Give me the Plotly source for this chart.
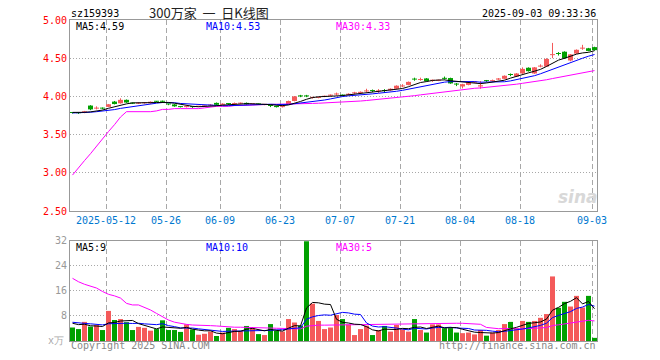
import plotly.graph_objects as go
import pandas as pd

# ---------------- data ----------------
holidays = ["2025-05-01", "2025-05-02", "2025-05-05", "2025-06-02"]
dates = pd.bdate_range("2025-04-29", "2025-09-03", freq="C", holidays=holidays)

opens = [3.790, 3.788, 3.785, 3.880, 3.840, 3.848, 3.863, 3.932, 3.910, 3.955,
         3.915, 3.905, 3.910, 3.910, 3.935, 3.935, 3.900, 3.895, 3.865, 3.860,
         3.865, 3.865, 3.870, 3.880, 3.915, 3.890, 3.905, 3.900, 3.905, 3.915,
         3.895, 3.900, 3.890, 3.890, 3.875, 3.860, 3.900, 3.940, 4.005, 4.005,
         3.980, 3.980, 3.995, 4.010, 4.025, 4.015, 4.020, 4.040, 4.045, 4.065,
         4.075, 4.065, 4.075, 4.080, 4.100, 4.130, 4.150, 4.225, 4.215, 4.235,
         4.205, 4.205, 4.235, 4.240, 4.160, 4.130, 4.150, 4.180, 4.130, 4.205,
         4.200, 4.220, 4.230, 4.285, 4.260, 4.300, 4.375, 4.300, 4.390, 4.390,
         4.540, 4.565, 4.585, 4.470, 4.560, 4.625, 4.630, 4.645]
highs = [3.795, 3.790, 3.810, 3.885, 3.870, 3.855, 3.900, 3.940, 3.975, 3.960,
         3.920, 3.920, 3.925, 3.935, 3.940, 3.945, 3.905, 3.900, 3.870, 3.875,
         3.870, 3.875, 3.880, 3.900, 3.920, 3.910, 3.910, 3.920, 3.920, 3.920,
         3.905, 3.905, 3.900, 3.895, 3.880, 3.890, 3.945, 4.005, 4.020, 4.020,
         3.995, 3.995, 4.010, 4.025, 4.050, 4.025, 4.040, 4.060, 4.065, 4.100,
         4.090, 4.095, 4.095, 4.105, 4.145, 4.160, 4.195, 4.245, 4.245, 4.240,
         4.220, 4.220, 4.260, 4.245, 4.175, 4.165, 4.190, 4.195, 4.200, 4.215,
         4.220, 4.240, 4.275, 4.300, 4.305, 4.380, 4.380, 4.385, 4.420, 4.500,
         4.700, 4.580, 4.590, 4.555, 4.615, 4.675, 4.635, 4.650]
lows = [3.775, 3.770, 3.780, 3.820, 3.830, 3.832, 3.860, 3.895, 3.905, 3.915,
        3.900, 3.900, 3.905, 3.905, 3.925, 3.915, 3.885, 3.865, 3.855, 3.855,
        3.850, 3.860, 3.865, 3.875, 3.885, 3.885, 3.890, 3.895, 3.900, 3.890,
        3.890, 3.890, 3.885, 3.860, 3.855, 3.855, 3.895, 3.935, 3.990, 3.990,
        3.970, 3.975, 3.990, 4.005, 4.010, 4.000, 4.015, 4.030, 4.040, 4.055,
        4.055, 4.045, 4.050, 4.075, 4.095, 4.120, 4.145, 4.205, 4.205, 4.195,
        4.190, 4.200, 4.220, 4.165, 4.135, 4.105, 4.145, 4.175, 4.100, 4.190,
        4.195, 4.215, 4.225, 4.265, 4.255, 4.295, 4.325, 4.295, 4.380, 4.385,
        4.500, 4.535, 4.490, 4.460, 4.555, 4.610, 4.590, 4.600]
closes = [3.783, 3.780, 3.805, 3.830, 3.850, 3.840, 3.897, 3.900, 3.955, 3.920,
          3.905, 3.915, 3.920, 3.930, 3.930, 3.930, 3.895, 3.870, 3.860, 3.865,
          3.860, 3.870, 3.875, 3.890, 3.890, 3.905, 3.900, 3.910, 3.912, 3.895,
          3.900, 3.895, 3.895, 3.875, 3.860, 3.870, 3.940, 4.000, 4.000, 4.000,
          3.985, 3.990, 4.005, 4.020, 4.030, 4.010, 4.035, 4.045, 4.060, 4.070,
          4.070, 4.070, 4.070, 4.100, 4.140, 4.135, 4.190, 4.220, 4.225, 4.200,
          4.210, 4.215, 4.230, 4.170, 4.155, 4.160, 4.185, 4.190, 4.145, 4.200,
          4.210, 4.235, 4.270, 4.280, 4.300, 4.360, 4.330, 4.380, 4.400, 4.490,
          4.550, 4.555, 4.500, 4.550, 4.610, 4.630, 4.595, 4.605]
# closes of the 9 sessions before the window (feed the MA5 / MA10 start)
prior_closes = [3.77, 3.78, 3.77, 3.78, 3.78, 3.79, 3.79, 3.80, 3.79]
# MA30 values shown for the first 29 sessions (window not yet full)
ma30_early = [2.97, 3.07, 3.16, 3.25, 3.35, 3.44, 3.54, 3.63, 3.73, 3.80,
              3.80, 3.80, 3.80, 3.80, 3.81, 3.83, 3.83, 3.84, 3.84, 3.84,
              3.84, 3.84, 3.85, 3.86, 3.87, 3.87, 3.87, 3.88, 3.88]

volumes = [4.3, 3.8, 6.1, 4.6, 5.1, 3.5, 9.6, 6.7, 7.0, 6.0,
           3.5, 4.5, 4.2, 3.3, 3.8, 6.6, 3.5, 3.5, 2.9, 5.3,
           3.7, 2.0, 2.3, 3.0, 1.6, 2.7, 4.2, 3.8, 3.2, 4.8,
           4.1, 2.2, 1.9, 5.4, 3.2, 3.0, 7.0, 5.9, 4.9, 31.8,
           11.9, 6.4, 3.8, 4.3, 8.3, 7.0, 5.3, 1.9, 3.8, 4.9,
           1.9, 3.5, 4.8, 3.0, 5.1, 3.7, 3.0, 7.0, 3.5, 2.7,
           5.3, 5.3, 4.1, 4.1, 2.7, 2.5, 2.7, 2.1, 3.5, 1.7,
           2.7, 3.5, 5.4, 6.1, 4.1, 6.4, 6.1, 6.4, 7.4, 8.6,
           20.6, 10.6, 12.5, 11.0, 14.4, 10.7, 14.4, 1.0]
prior_volumes = [6.5, 7.0, 6.0, 6.5, 5.5, 6.0, 5.5, 7.0, 5.5]
vol_ma30_early = [20.0, 18.9, 18.1, 17.6, 16.9, 15.8, 14.9, 14.4, 13.7, 12.0,
                  11.5, 11.5, 10.7, 9.9, 8.8, 7.8, 6.7, 6.0, 5.6, 5.3,
                  5.1, 5.1, 5.1, 4.9, 4.8, 4.6, 4.6, 4.4, 4.4]

tick_dates = ["2025-05-12", "2025-05-26", "2025-06-09", "2025-06-23", "2025-07-07",
              "2025-07-21", "2025-08-04", "2025-08-18", "2025-09-03"]
tick_labels = ["2025-05-12", "05-26", "06-09", "06-23", "07-07",
               "07-21", "08-04", "08-18", "09-03"]
price_ticks = [2.5, 3.0, 3.5, 4.0, 4.5, 5.0]
vol_ticks = [8, 16, 24, 32]

# ---------------- derived ----------------
n = len(closes)
xs = list(range(n))
cs = pd.Series(prior_closes + closes)
ma5 = cs.rolling(5).mean().tolist()[len(prior_closes):]
ma10 = cs.rolling(10).mean().tolist()[len(prior_closes):]
ma30 = ma30_early + pd.Series(closes).rolling(30).mean().tolist()[29:]
vs = pd.Series(prior_volumes + volumes)
vma5 = vs.rolling(5).mean().tolist()[len(prior_volumes):]
vma10 = vs.rolling(10).mean().tolist()[len(prior_volumes):]
vma30 = vol_ma30_early + pd.Series(volumes).rolling(30).mean().tolist()[29:]

RED = "#f45a5a"
GREEN = "#00a000"
up = [c >= o for o, c in zip(opens, closes)]
bar_colors = [RED if u else GREEN for u in up]

date_idx = {d.strftime("%Y-%m-%d"): i for i, d in enumerate(dates)}
half = 5 / 12
tickvals = [date_idx[d] - half for d in tick_dates]

W, H = 660, 360
ML, MR, MT, MB = 70, 63, 20, 19
PW, PH = W - ML - MR, H - MT - MB
MONO = "DejaVu Sans Mono"
GRID = "#a8a8a8"
PRICE_MIN, PRICE_MAX = 2.5, 5.0
y1_bottom = (H - MB - 211) / PH
y2_top = (H - MB - 240.7) / PH
one_px = (PRICE_MAX - PRICE_MIN) / ((1 - y1_bottom) * PH)


def px(x):
    return (x - ML) / PW


def py(y):
    return (H - MB - y) / PH


fig = go.Figure()

# wicks (high-low) per colour
for is_up, col in [(True, RED), (False, GREEN)]:
    wx, wy = [], []
    for i in xs:
        if up[i] == is_up:
            wx += [i, i, None]
            wy += [lows[i], highs[i], None]
    fig.add_trace(go.Scatter(x=wx, y=wy, mode="lines", line=dict(color=col, width=1),
                             xaxis="x", yaxis="y", hoverinfo="skip"))
# bodies (open-close), at least one pixel tall
body_base = [min(o, c) for o, c in zip(opens, closes)]
body_h = [max(abs(c - o), one_px) for o, c in zip(opens, closes)]
fig.add_trace(go.Bar(x=xs, y=body_h, base=body_base, width=5 / 6,
                     marker=dict(color=bar_colors, line=dict(width=0)),
                     xaxis="x", yaxis="y", hoverinfo="skip"))
for ys, col in [(ma30, "#ff00ff"), (ma10, "#0000ff"), (ma5, "#000000")]:
    fig.add_trace(go.Scatter(x=xs, y=ys, mode="lines", line=dict(color=col, width=1),
                             xaxis="x", yaxis="y", hoverinfo="skip"))

fig.add_trace(go.Bar(x=xs, y=volumes, width=5 / 6, marker=dict(color=bar_colors, line=dict(width=0)),
                     xaxis="x2", yaxis="y2", hoverinfo="skip"))
for ys, col in [(vma30, "#ff00ff"), (vma10, "#0000ff"), (vma5, "#000000")]:
    fig.add_trace(go.Scatter(x=xs, y=ys, mode="lines", line=dict(color=col, width=1),
                             xaxis="x2", yaxis="y2", hoverinfo="skip"))

xrange = [-half, n - 1 + half]
common_x = dict(range=xrange, tickvals=tickvals, showgrid=True, gridcolor=GRID,
                griddash="5px,3px", gridwidth=1, showline=True, mirror=True,
                linecolor="#999999", linewidth=1, zeroline=False, ticks="", fixedrange=True)
fig.update_layout(
    width=W, height=H, margin=dict(l=ML, r=MR, t=MT, b=MB),
    paper_bgcolor="white", plot_bgcolor="white", showlegend=False,
    barmode="overlay",
    xaxis=dict(domain=[0, 1], anchor="y", ticktext=tick_labels,
               tickfont=dict(family=MONO, size=10, color="#0078d0"), **common_x),
    xaxis2=dict(domain=[0, 1], anchor="y2", showticklabels=False, **common_x),
    yaxis=dict(domain=[y1_bottom, 1], anchor="x", range=[PRICE_MIN, PRICE_MAX],
               tickvals=price_ticks, tickformat=".2f",
               tickfont=dict(family=MONO, size=10, color="#ff0000"),
               showgrid=True, gridcolor=GRID, griddash="1px,2px", showline=True,
               mirror=True, linecolor="#999999", linewidth=1, zeroline=False, ticks="",
               fixedrange=True),
    yaxis2=dict(domain=[0, y2_top], anchor="x2", range=[0, 32], tickvals=vol_ticks,
                tickfont=dict(family=MONO, size=10, color="#999999"),
                showgrid=True, gridcolor=GRID, griddash="1px,2px", showline=True,
                mirror=True, linecolor="#999999", linewidth=1, zeroline=False, ticks="",
                fixedrange=True),
)


def ann(text, x, y, color="#000000", xanchor="left", size=10, family=MONO, **kw):
    fig.add_annotation(text=text, x=px(x), y=py(y), xref="paper", yref="paper",
                       xanchor=xanchor, yanchor="middle", showarrow=False,
                       font=dict(family=family, size=size, color=color), **kw)


ann("sz159393", 69, 13)
ann("300万家&nbsp;&nbsp;一&nbsp;&nbsp;日K线图", 209, 12, color="#222222", xanchor="center",
    size=13, family="Noto Sans CJK SC")
ann("2025-09-03 09:33:36", 598, 13, xanchor="right")
ann("MA5:4.59", 74, 26)
ann("MA10:4.53", 204, 26, color="#0000ff")
ann("MA30:4.33", 334, 26, color="#ff00ff")
ann("MA5:9", 74, 247)
ann("MA10:10", 204, 247, color="#0000ff")
ann("MA30:5", 334, 247, color="#ff00ff")
ann("x万", 66, 340, color="#aaaaaa", xanchor="right")
ann("Copyright 2025 SINA.COM", 69, 346, color="#888888")
ann("http://finance.sina.com.cn", 598, 346, color="#888888", xanchor="right")
ann("<b><i>sina</i></b>", 578, 197, color="#d8d8d8", xanchor="center", size=17,
    family="DejaVu Sans")

fig.write_html("out.html", config={"displayModeBar": False, "staticPlot": True},
               post_script="document.body.style.margin='0';")
